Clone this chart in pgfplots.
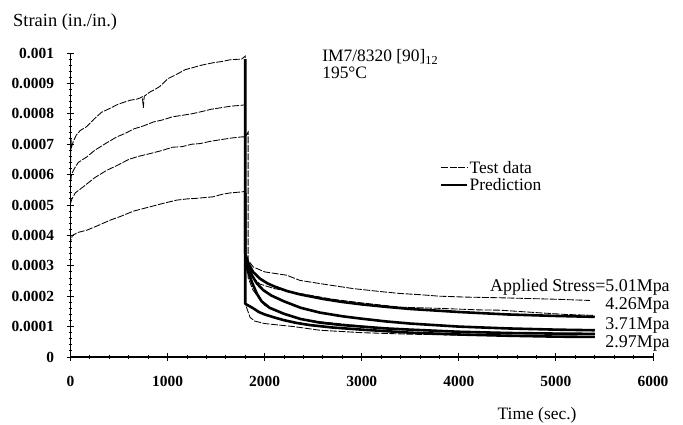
\documentclass[border=0pt]{standalone}
\usepackage{pgfplots}
\pgfplotsset{compat=1.18}
\usepackage{fontspec}
\setmainfont{Liberation Serif}
\begin{document}
\begin{tikzpicture}
\begin{axis}[
  scale only axis,
  width=582.5bp, height=304bp,
  xmin=0, xmax=6000, ymin=0, ymax=0.001,
  axis x line*=bottom, axis y line*=left,
  axis line style={-, line width=1.1bp},
  xtick={0,1000,2000,3000,4000,5000,6000},
  xticklabels={0,1000,2000,3000,4000,5000,6000},
  ytick={0,0.0001,0.0002,0.0003,0.0004,0.0005,0.0006,0.0007,0.0008,0.0009,0.001},
  yticklabels={0,0.0001,0.0002,0.0003,0.0004,0.0005,0.0006,0.0007,0.0008,0.0009,0.001},
  minor x tick num=4, minor y tick num=4,
  tick align=center,
  major tick length=8bp, minor tick length=4bp,
  tick style={line width=0.9bp, black},
  ticklabel style={font=\bfseries\fontsize{15.5}{15.5}\selectfont},
  xticklabel style={yshift=-12bp},
  yticklabel style={xshift=-9bp},
  scaled y ticks=false,
  clip=false,
  legend style={at={(rel axis cs:0.629,0.594)}, anchor=west, draw=none, fill=none,
    font=\fontsize{17.5}{17.5}\selectfont, legend cell align=left, row sep=1.5bp,
    nodes={inner sep=1bp}},
  legend image code/.code={\draw[#1] (0bp,0bp) -- (26bp,0bp);},
  test/.style={black, line width=0.85bp, dash pattern=on 7bp off 1.5bp},
  pred/.style={black, line width=2.6bp, line join=round},
]
\coordinate (BL) at (rel axis cs:0,0);
\coordinate (TR) at (rel axis cs:1,1);

% ---- test data, 5.01 MPa
\addplot[test, forget plot] coordinates {
(0,0.00068)(0,0.00063)(5,0.00072)(10,0.00069)(30,0.00071)(60,0.00073)(100,0.000745)
(167,0.000758)(250,0.000785)(320,0.000805)(407,0.000818)(480,0.00083)(550,0.000838)
(620,0.000845)(680,0.000848)(716,0.000852)(740,0.000856)(750,0.00082)(760,0.000858)
(820,0.000872)(870,0.00088)(920,0.00089)(960,0.000902)(1000,0.000915)(1094,0.00093)
(1180,0.000945)(1260,0.000952)(1350,0.00096)(1470,0.000968)(1560,0.000972)(1650,0.000978)
(1763,0.00098)(1800,0.00099)(1800,0.00033)(1850,0.00031)(1883,0.000296)(2000,0.00028)
(2227,0.000269)(2363,0.000252)(2600,0.00024)(2912,0.000225)(3200,0.000215)(3393,0.000209)
(3600,0.000205)(3800,0.0002)(4080,0.000197)(4400,0.000195)(4762,0.000192)(5000,0.00019)
(5350,0.000186)};
% ---- test data, 4.26 MPa
\addplot[test, forget plot] coordinates {
(0,0.00059)(0,0.00057)(10,0.0006)(40,0.00062)(80,0.00064)(167,0.000658)(250,0.00068)
(350,0.0007)(476,0.000724)(560,0.000735)(650,0.00075)(750,0.00076)(853,0.000773)
(950,0.00078)(1050,0.00079)(1150,0.000795)(1250,0.0008)(1334,0.000806)(1450,0.000815)
(1550,0.00082)(1650,0.000825)(1763,0.000828)(1800,0.00083)(1800,0.0003)(1850,0.00027)
(1950,0.00024)(2100,0.000225)(2363,0.000209)(2700,0.00019)(3000,0.000178)(3393,0.000164)
(3800,0.00016)(4200,0.000155)(4423,0.000154)(4800,0.000146)(5100,0.00014)(5380,0.000137)};
% ---- test data, 3.71 MPa
\addplot[test, forget plot] coordinates {
(0,0.000505)(15,0.00052)(50,0.00054)(132,0.00056)(250,0.00059)(373,0.000614)(480,0.00063)
(600,0.00065)(700,0.00066)(819,0.000669)(950,0.00068)(1050,0.00069)(1150,0.000692)
(1250,0.0007)(1334,0.000702)(1450,0.00071)(1550,0.000715)(1650,0.00072)(1763,0.000724)
(1800,0.000724)(1830,0.00074)(1830,0.00026)(1880,0.00022)(2000,0.00017)(2200,0.00014)
(2363,0.000125)(2600,0.000115)(3000,0.000102)(3393,0.00009)(3800,0.000086)(4200,0.000082)
(4600,0.00008)(5000,0.000078)(5400,0.000076)};
% ---- test data, 2.97 MPa
\addplot[test, forget plot] coordinates {
(0,0.000395)(0,0.00038)(20,0.0004)(80,0.00041)(167,0.000417)(280,0.000432)(407,0.00045)
(520,0.000463)(650,0.00048)(819,0.000494)(950,0.000505)(1094,0.000516)(1200,0.00052)
(1300,0.000522)(1400,0.000525)(1470,0.000527)(1560,0.000535)(1650,0.00054)(1763,0.000543)
(1800,0.000545)(1800,0.000175)(1850,0.00013)(1900,0.000118)(2000,0.00011)(2300,0.0001)(2570,0.000088)
(3000,0.00008)(3500,0.000075)(4000,0.000072)(4500,0.00007)(5000,0.000068)(5400,0.000065)};

% ---- predictions
\addplot[pred, forget plot] coordinates {
(1800,0.00098)(1800,0.00034)(1830,0.00031)(1880,0.00028)(1950,0.000258)(2030,0.000242)(2100,0.000232)
(2230,0.000217)(2363,0.000206)(2600,0.000191)(2800,0.000181)(3000,0.000173)(3250,0.000165)(3500,0.000158)
(3750,0.000153)(4000,0.000148)(4500,0.00014)(5000,0.000135)(5400,0.000132)};
\addplot[pred, forget plot] coordinates {
(1800,0.00033)(1830,0.0003)(1870,0.000268)(1920,0.000242)(1985,0.00022)(2070,0.000202)(2200,0.000183)
(2370,0.000162)(2570,0.000146)(2800,0.000134)(3000,0.000126)(3250,0.000117)(3500,0.00011)(3750,0.000105)
(4000,0.0001)(4500,0.000094)(5000,0.00009)(5400,0.000088)};
\addplot[pred, forget plot] coordinates {
(1800,0.00031)(1830,0.00028)(1870,0.000245)(1920,0.000208)(1969,0.000183)(2050,0.000162)(2200,0.000142)
(2370,0.000125)(2570,0.000113)(2800,0.000105)(3000,0.0001)(3250,0.000094)(3500,0.00009)(4000,0.000083)
(4500,0.000079)(5000,0.000077)(5400,0.000076)};
\addplot[pred, forget plot] coordinates {
(1800,0.00054)(1800,0.000175)(1840,0.000168)(1883,0.00016)(1940,0.000148)(2000,0.00014)(2100,0.00013)
(2200,0.000121)(2330,0.000112)(2466,0.000105)(2700,0.000097)(3000,0.00009)(3500,0.00008)(4000,0.000074)
(4500,0.00007)(5000,0.000067)(5400,0.000066)};

\addlegendimage{test}
\addlegendentry{Test data}
\addlegendimage{pred}
\addlegendentry{Prediction}

\node[anchor=west, font=\fontsize{18.5}{18.5}\selectfont, inner sep=0] at (rel axis cs:-0.0987,1.102) {Strain (in./in.)};
\node[font=\fontsize{17.5}{17.5}\selectfont, inner sep=0] at (rel axis cs:0.801,-0.191) {Time (sec.)};
\node[anchor=west, font=\fontsize{17.5}{17.5}\selectfont, inner sep=0] at (rel axis cs:0.432,0.987) {IM7/8320 [90]\textsubscript{12}};
\node[anchor=west, font=\fontsize{17.5}{17.5}\selectfont, inner sep=0] at (rel axis cs:0.432,0.934) {195°C};
\node[anchor=east, font=\fontsize{18}{18}\selectfont, inner sep=0] at (rel axis cs:1.029,0.230) {Applied Stress=5.01Mpa};
\node[anchor=east, font=\fontsize{18}{18}\selectfont, inner sep=0] at (rel axis cs:1.029,0.168) {4.26Mpa};
\node[anchor=east, font=\fontsize{18}{18}\selectfont, inner sep=0] at (rel axis cs:1.029,0.105) {3.71Mpa};
\node[anchor=east, font=\fontsize{18}{18}\selectfont, inner sep=0] at (rel axis cs:1.029,0.046) {2.97Mpa};
\end{axis}
\pgfresetboundingbox
\useasboundingbox ([shift={(-70.5bp,-68bp)}]BL) rectangle ([shift={(30bp,53bp)}]TR);
\end{tikzpicture}
\end{document}
